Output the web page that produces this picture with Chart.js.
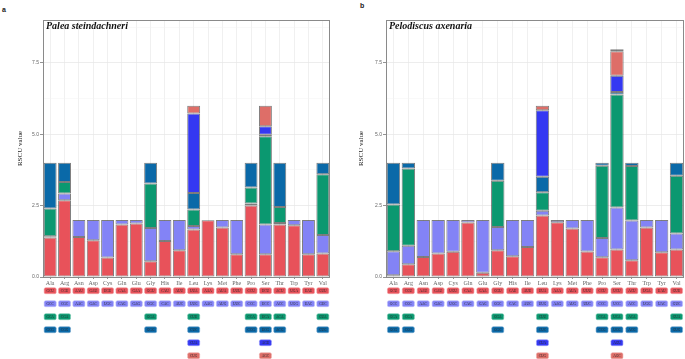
<!DOCTYPE html>
<html>
<head>
    <title>RSCU</title>
    <script src="https://cdn.jsdelivr.net/npm/chart.js"></script>
    <style>
        body { margin: 0; background: #fff; }
        .wrap { position: relative; width: 685px; height: 359px; overflow: hidden; }
        #chartA { position: absolute; left: 0; top: 0; }
        #chartB { position: absolute; left: 340px; top: 0; }
        .tag { position: absolute; font: bold 7px "Liberation Sans", sans-serif; color: #222; }
    </style>
</head>
<body>
<div class="wrap">
    <div class="tag" style="left:2px; top:6px;">a</div>
    <div class="tag" style="left:360px; top:2px;">b</div>
    <canvas id="chartA" width="340" height="359"></canvas>
    <canvas id="chartB" width="345" height="359"></canvas>
</div>

<script>
    const aminoAcids = ['Ala', 'Arg', 'Asn', 'Asp', 'Cys', 'Gln', 'Glu', 'Gly', 'His', 'Ile',
                        'Leu', 'Lys', 'Met', 'Phe', 'Pro', 'Ser', 'Thr', 'Trp', 'Tyr', 'Val'];

    // codon shown in each label row (row 1 = bottom of the stack)
    const codon1 = ['GCU','CGU','AAU','GAU','UGU','CAA','GAA','GGU','CAU','AUU','UUA','AAA','AUA','UUU','CCU','UCU','ACU','UGA','UAU','GUU'];
    const codon2 = ['GCC','CGC','AAC','GAC','UGC','CAG','GAG','GGC','CAC','AUC','UUG','AAG','AUG','UUC','CCC','UCC','ACC','UGG','UAC','GUC'];
    const codon3 = ['GCA','CGA','','','','','','GGA','','','CUU','','','','CCA','UCA','ACA','','','GUA'];
    const codon4 = ['GCG','CGG','','','','','','GGG','','','CUC','','','','CCG','UCG','ACG','','','GUG'];
    const codon5 = ['','','','','','','','','','','CUA','','','','','AGU','','','',''];
    const codon6 = ['','','','','','','','','','','CUG','','','','','AGC','','','',''];
    const codon7 = ['','','','','','','','','','','','','','','','AGA','','','',''];

    // Palea steindachneri
    const paleaRscu1 = [1.38, 2.69, 1.40, 1.29, 0.68, 1.84, 1.87, 0.55, 1.26, 0.94, 1.66, 1.99, 1.73, 0.80, 2.50, 0.80, 1.84, 1.81, 0.80, 0.82];
    const paleaRscu2 = [0.05, 0.23, 0.60, 0.71, 1.32, 0.16, 0.13, 1.17, 0.74, 1.06, 0.13, 0.01, 0.27, 1.20, 0.07, 1.04, 0.05, 0.19, 1.20, 0.65];
    const paleaRscu3 = [0.97, 0.41, null, null, null, null, null, 1.55, null, null, 0.57, null, null, null, 0.56, 3.09, 0.56, null, null, 2.13];
    const paleaRscu4 = [1.60, 0.67, null, null, null, null, null, 0.73, null, null, 0.58, null, null, null, 0.87, 0.05, 1.55, null, null, 0.40];
    const paleaRscu5 = [null, null, null, null, null, null, null, null, null, null, 2.79, null, null, null, null, 0.30, null, null, null, null];
    const paleaRscu6 = [null, null, null, null, null, null, null, null, null, null, 0.27, null, null, null, null, 0.72, null, null, null, null];

    // Pelodiscus axenaria
    const pelodiscusRscu1 = [0.06, 0.45, 0.70, 0.82, 0.88, 1.91, 0.15, 0.94, 0.73, 1.05, 2.15, 1.92, 1.70, 0.89, 0.69, 0.96, 0.59, 1.73, 0.87, 0.96];
    const pelodiscusRscu2 = [0.84, 0.64, 1.30, 1.18, 1.12, 0.09, 1.85, 0.81, 1.27, 0.95, 0.17, 0.08, 0.30, 1.11, 0.68, 1.47, 1.39, 0.27, 1.13, 0.56];
    const pelodiscusRscu3 = [1.64, 2.71, null, null, null, null, null, 1.62, null, null, 0.65, null, null, null, 2.53, 3.96, 1.91, null, null, 2.03];
    const pelodiscusRscu4 = [1.46, 0.20, null, null, null, null, null, 0.63, null, null, 0.54, null, null, null, 0.10, 0.09, 0.11, null, null, 0.45];
    const pelodiscusRscu5 = [null, null, null, null, null, null, null, null, null, null, 2.33, null, null, null, null, 0.57, null, null, null, null];
    const pelodiscusRscu6 = [null, null, null, null, null, null, null, null, null, null, 0.16, null, null, null, null, 0.86, null, null, null, null];
    const pelodiscusRscu7 = [null, null, null, null, null, null, null, null, null, null, null, null, null, null, null, 0.07, null, null, null, null];

    const yTicks = [0, 2.5, 5, 7.5];

    const codonRows = [codon1, codon2, codon3, codon4, codon5, codon6, codon7];
    const fills = ['#E8525A', '#8383F6', '#0B9870', '#0A69A8', '#3438F2', '#DE6E68', '#4A2824'];
    const boxEdges = ['#F2A0A3', '#C0C0FA', '#7ACBB2', '#79AAD0', '#9A9CF8', '#EEB0AC', '#A08A86'];

    const isMajor = v => yTicks.some(t => Math.abs(t - v) < 1e-6);

    const panelPlugin = {
        id: 'panel',
        afterDraw(chart) {
            const ctx = chart.ctx;
            const area = chart.chartArea;
            const x = chart.scales.x;
            ctx.save();
            // panel border
            ctx.strokeStyle = '#8a8a8a';
            ctx.lineWidth = 1;
            ctx.strokeRect(area.left + 0.5, area.top + 0.5, area.right - area.left - 1, area.bottom - area.top);
            // species name
            ctx.fillStyle = '#111';
            ctx.font = 'italic bold 10px "Liberation Serif", serif';
            ctx.textBaseline = 'alphabetic';
            ctx.textAlign = 'left';
            ctx.fillText(chart.options.plugins.panel.species, area.left + 3, area.top + 9);
            // codon label boxes under the axis
            const nRows = chart.data.datasets.length;
            for (let r = 0; r < nRows; r++) {
                const labels = codonRows[r];
                const yc = area.bottom + 13.7 + r * 13;
                labels.forEach((lab, j) => {
                    if (!lab) return;
                    const xc = x.getPixelForValue(j);
                    ctx.beginPath();
                    ctx.roundRect(xc - 6, yc - 3, 12, 6, 1.5);
                    ctx.fillStyle = fills[r];
                    ctx.fill();
                    ctx.strokeStyle = boxEdges[r];
                    ctx.lineWidth = 0.6;
                    ctx.stroke();
                    ctx.fillStyle = '#2a2a2a';
                    ctx.font = '3.5px "Liberation Serif", serif';
                    ctx.textAlign = 'center';
                    ctx.textBaseline = 'middle';
                    ctx.fillText(lab, xc, yc + 0.2);
                });
            }
            ctx.restore();
        }
    };

    function makeChart(id, species, series, yWidth, titlePad, padRight) {
        const datasets = series.map((data, i) => ({
            label: 'codon ' + (i + 1),
            data: data,
            backgroundColor: fills[i],
            borderColor: 'rgba(55,55,55,0.65)',
            borderWidth: 1,
            borderSkipped: false,
            categoryPercentage: 1.0,
            barPercentage: 0.9
        }));

        return new Chart(document.getElementById(id), {
            type: 'bar',
            data: { labels: aminoAcids, datasets: datasets },
            plugins: [panelPlugin],
            options: {
                responsive: false,
                animation: false,
                layout: { padding: { top: 20, right: padRight, left: 0, bottom: 0 } },
                plugins: {
                    legend: { display: false },
                    tooltip: { enabled: false },
                    panel: { species: species }
                },
                scales: {
                    x: {
                        stacked: true,
                        afterFit: s => { s.height = 82; },
                        border: { display: false },
                        grid: {
                            offset: false,
                            color: '#ececec',
                            lineWidth: 0.8,
                            tickLength: 2,
                            tickColor: '#777'
                        },
                        ticks: {
                            padding: 1,
                            color: '#666',
                            font: { family: '"Liberation Serif", serif', size: 6 },
                            maxRotation: 0,
                            autoSkip: false
                        }
                    },
                    y: {
                        stacked: true,
                        min: 0,
                        max: 9,
                        afterFit: s => { s.width = yWidth; },
                        border: { display: false },
                        grid: {
                            color: c => isMajor(c.tick.value) ? '#e8e8e8' : '#f3f3f3',
                            lineWidth: c => isMajor(c.tick.value) ? 0.8 : 0.5,
                            tickLength: 3,
                            tickColor: c => isMajor(c.tick.value) ? '#777' : 'rgba(0,0,0,0)'
                        },
                        ticks: {
                            stepSize: 1.25,
                            padding: 1,
                            color: '#666',
                            font: { family: '"Liberation Sans", sans-serif', size: 5 },
                            callback: v => isMajor(v) ? v.toFixed(1) : ''
                        },
                        title: {
                            display: true,
                            text: 'RSCU value',
                            color: '#222',
                            font: { family: '"Liberation Serif", serif', size: 7 },
                            padding: { top: titlePad, bottom: 0 }
                        }
                    }
                }
            }
        });
    }

    makeChart('chartA', 'Palea steindachneri',
        [paleaRscu1, paleaRscu2, paleaRscu3, paleaRscu4, paleaRscu5, paleaRscu6], 43, 16, 10);
    makeChart('chartB', 'Pelodiscus axenaria',
        [pelodiscusRscu1, pelodiscusRscu2, pelodiscusRscu3, pelodiscusRscu4, pelodiscusRscu5, pelodiscusRscu6, pelodiscusRscu7], 46, 17, 1);
</script>
</body>
</html>
